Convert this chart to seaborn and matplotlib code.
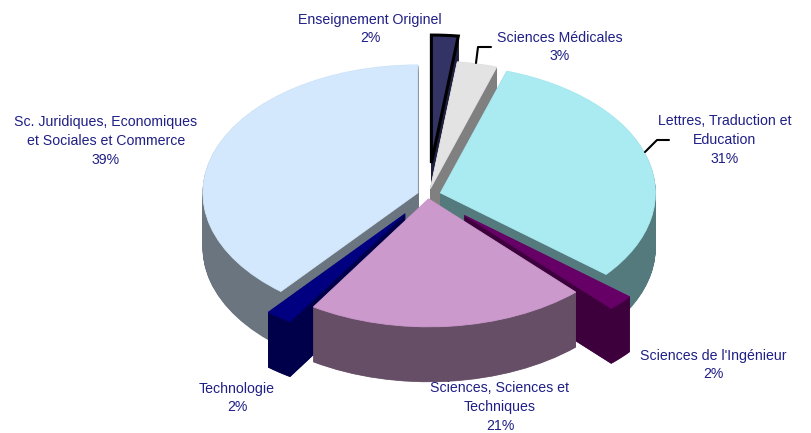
import numpy as np
import matplotlib
matplotlib.use("Agg")
import matplotlib.pyplot as plt
import seaborn as sns

# ---- data ----
categories = ["Enseignement Originel", "Sciences Médicales", "Lettres, Traduction et\nEducation",
              "Sciences de l'Ingénieur", "Sciences, Sciences et\nTechniques", "Technologie",
              "Sc. Juridiques, Economiques\net Sociales et Commerce"]
shares = [2, 3, 31, 2, 21, 2, 39]
explode = [0.25, 0.05, 0.06, 0.23, 0.03, 0.18, 0.05]
top_colors = ['#333366', '#e3e3e3', '#aaebf2', '#660066', '#cc99cc', '#000080', '#d3e8fc']
side_colors = ['#1f1f40', '#808080', '#557a7e', '#3d003d', '#664f66', '#00004a', '#6b7580']

sns.set_theme(style="white")
plt.rcParams['font.family'] = ['Liberation Sans', 'DejaVu Sans']

W, H = 812, 433
fig = plt.figure(figsize=(W / 100, H / 100), dpi=100)
ax = fig.add_axes([0, 0, 1, 1])

cx, cy, rx, ry = 428, 195, 215, 128   # pixel geometry of the top ellipse
depth = 55 / ry

# side walls: stacked layers from bottom to top
for d in np.linspace(depth, 0.005, 90):
    wedges, _ = ax.pie(shares, explode=explode, startangle=90, counterclock=False,
                       colors=side_colors, center=(0, -d), radius=1,
                       wedgeprops=dict(linewidth=0.5), normalize=True)
    for w, c in zip(wedges, side_colors):
        w.set_edgecolor(c)

# top faces
wedges, _ = ax.pie(shares, explode=explode, startangle=90, counterclock=False,
                   colors=top_colors, center=(0, 0), radius=1,
                   wedgeprops=dict(linewidth=0.6), normalize=True)
for w, c in zip(wedges, top_colors):
    w.set_edgecolor(c)
wedges[0].set_edgecolor('black')
wedges[0].set_linewidth(2.2)

ax.set_aspect('auto')
ax.set_xlim(-cx / rx, (W - cx) / rx)
ax.set_ylim((cy - H) / ry, cy / ry)
ax.axis('off')

# ---- labels ----
pct_labels = [f"{v}%" for v in shares]
label_pos = [(370, 29), (560, 47), (725, 140), (713, 365), (500, 407), (237, 398), (106, 141)]
tc = '#1f1f86'
for cat, pct, (x, y) in zip(categories, pct_labels, label_pos):
    fig.text(x / W, 1 - y / H, f"{cat}\n{pct}", ha='center', va='center',
             color=tc, fontsize=10.2, linespacing=1.45)

# leader lines
leaders = [[(476, 63), (478, 47), (491, 47)],
           [(645, 152), (657, 140), (669, 140)]]
for pts in leaders:
    xs = [p[0] / W for p in pts]
    ys = [1 - p[1] / H for p in pts]
    fig.add_artist(plt.Line2D(xs, ys, color='black', linewidth=1.5, transform=fig.transFigure))

fig.savefig("out.png", dpi=100, facecolor='white')
